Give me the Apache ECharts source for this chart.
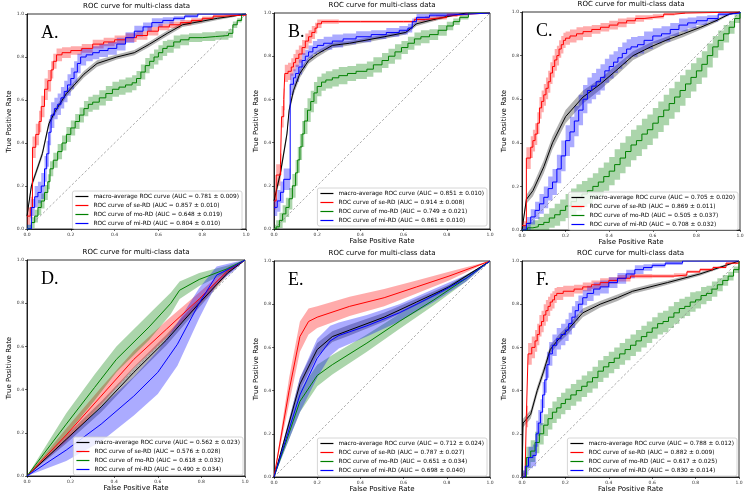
<!DOCTYPE html>
<html>
<head>
<meta charset="utf-8">
<script src="https://cdn.jsdelivr.net/npm/echarts@6/dist/echarts.min.js"></script>
<style>
    html, body { margin: 0; padding: 0; background: #fff; }
    #main { width: 750px; height: 497px; }
</style>
</head>
<body>
<div id="main"></div>
<script>
// 标题与类别
var panelTitle = 'ROC curve for multi-class data';
var panelLetters = ['A.', 'B.', 'C.', 'D.', 'E.', 'F.'];
var curveNames = ['macro-average ROC curve', 'ROC curve of se-RD', 'ROC curve of mo-RD', 'ROC curve of mi-RD'];

// AUC 文本 (macro, se, mo, mi)
var aucA = ['0.781 ± 0.009', '0.857 ± 0.010', '0.648 ± 0.019', '0.804 ± 0.010'];
var aucB = ['0.851 ± 0.010', '0.914 ± 0.008', '0.749 ± 0.021', '0.861 ± 0.010'];
var aucC = ['0.705 ± 0.020', '0.869 ± 0.011', '0.505 ± 0.037', '0.708 ± 0.032'];
var aucD = ['0.562 ± 0.023', '0.576 ± 0.028', '0.618 ± 0.032', '0.490 ± 0.034'];
var aucE = ['0.712 ± 0.024', '0.787 ± 0.027', '0.651 ± 0.034', '0.698 ± 0.040'];
var aucF = ['0.788 ± 0.012', '0.882 ± 0.009', '0.617 ± 0.025', '0.830 ± 0.014'];

// 曲线点 [FPR, TPR, std]
var macroA = [[0,0.06,0.01],[0.02,0.2,0.015],[0.04,0.26,0.015],[0.07,0.35,0.015],[0.1,0.49,0.015],[0.13,0.55,0.015],[0.18,0.63,0.015],[0.26,0.72,0.015],[0.32,0.77,0.015],[0.41,0.8,0.012],[0.49,0.82,0.012],[0.56,0.86,0.012],[0.64,0.91,0.012],[0.71,0.95,0.01],[0.79,0.965,0.01],[0.87,0.98,0.008],[0.94,0.99,0.005],[1,1,0]];
var seA = [[0,0.06,0.04],[0.015,0.1,0.05],[0.025,0.38,0.05],[0.04,0.44,0.05],[0.055,0.5,0.05],[0.065,0.57,0.05],[0.08,0.65,0.05],[0.095,0.69,0.05],[0.11,0.74,0.04],[0.12,0.78,0.035],[0.135,0.81,0.03],[0.16,0.82,0.025],[0.2,0.83,0.02],[0.25,0.84,0.02],[0.3,0.86,0.02],[0.35,0.87,0.02],[0.4,0.88,0.02],[0.45,0.89,0.02],[0.5,0.9,0.02],[0.55,0.92,0.02],[0.6,0.94,0.015],[0.65,0.95,0.015],[0.7,0.96,0.012],[0.75,0.97,0.01],[0.8,0.98,0.008],[0.85,0.99,0.006],[0.9,0.995,0.004],[1,1,0]];
var moA = [[0,0,0.02],[0.02,0.03,0.025],[0.035,0.06,0.03],[0.05,0.1,0.035],[0.065,0.13,0.035],[0.08,0.17,0.035],[0.095,0.22,0.035],[0.105,0.28,0.035],[0.12,0.32,0.035],[0.14,0.36,0.035],[0.16,0.4,0.035],[0.18,0.44,0.035],[0.2,0.47,0.035],[0.22,0.5,0.035],[0.24,0.53,0.035],[0.26,0.56,0.035],[0.28,0.58,0.035],[0.3,0.59,0.035],[0.33,0.61,0.035],[0.36,0.63,0.035],[0.39,0.65,0.035],[0.42,0.66,0.035],[0.45,0.67,0.035],[0.48,0.68,0.035],[0.5,0.7,0.035],[0.52,0.73,0.035],[0.54,0.76,0.035],[0.56,0.78,0.035],[0.58,0.8,0.035],[0.6,0.82,0.035],[0.62,0.84,0.035],[0.64,0.85,0.03],[0.67,0.87,0.03],[0.7,0.88,0.025],[0.74,0.89,0.02],[0.8,0.895,0.02],[0.86,0.9,0.02],[0.92,0.91,0.02],[0.94,0.95,0.015],[0.96,0.97,0.01],[0.98,1,0],[1,1,0]];
var miA = [[0,0,0.02],[0.02,0.1,0.04],[0.035,0.15,0.05],[0.05,0.17,0.05],[0.065,0.2,0.06],[0.08,0.28,0.06],[0.09,0.35,0.06],[0.1,0.45,0.06],[0.11,0.53,0.06],[0.125,0.56,0.05],[0.14,0.58,0.05],[0.155,0.61,0.05],[0.17,0.64,0.05],[0.185,0.67,0.05],[0.2,0.7,0.05],[0.215,0.73,0.05],[0.23,0.77,0.045],[0.245,0.8,0.04],[0.27,0.81,0.03],[0.3,0.82,0.03],[0.33,0.83,0.03],[0.37,0.84,0.03],[0.41,0.86,0.03],[0.45,0.89,0.025],[0.49,0.92,0.025],[0.53,0.94,0.02],[0.57,0.96,0.02],[0.62,0.97,0.015],[0.67,0.98,0.01],[0.72,0.99,0.008],[0.78,1,0],[1,1,0]];

var macroB = [[0,0.13,0.02],[0.03,0.26,0.02],[0.06,0.44,0.02],[0.07,0.55,0.02],[0.09,0.64,0.02],[0.12,0.72,0.02],[0.16,0.78,0.015],[0.2,0.81,0.015],[0.27,0.85,0.012],[0.35,0.86,0.01],[0.51,0.89,0.01],[0.61,0.91,0.01],[0.66,0.95,0.01],[0.74,0.97,0.008],[0.81,0.985,0.005],[0.89,1,0],[1,1,0]];
var seB = [[0,0.13,0.04],[0.01,0.25,0.05],[0.03,0.3,0.05],[0.035,0.52,0.05],[0.045,0.6,0.05],[0.05,0.72,0.04],[0.065,0.73,0.04],[0.08,0.75,0.04],[0.09,0.77,0.04],[0.1,0.79,0.04],[0.115,0.81,0.04],[0.13,0.84,0.035],[0.145,0.87,0.035],[0.16,0.89,0.03],[0.175,0.91,0.03],[0.19,0.93,0.025],[0.2,0.95,0.02],[0.22,0.96,0.01],[0.3,0.96,0.005],[0.4,0.96,0.005],[0.5,0.96,0.005],[0.6,0.96,0.005],[0.65,0.97,0.01],[0.7,0.975,0.01],[0.75,0.98,0.01],[0.8,0.99,0.008],[0.85,0.995,0.005],[0.9,1,0],[1,1,0]];
var moB = [[0,0,0.02],[0.01,0.01,0.03],[0.025,0.04,0.035],[0.04,0.07,0.04],[0.055,0.1,0.045],[0.07,0.14,0.05],[0.085,0.2,0.055],[0.1,0.26,0.06],[0.11,0.32,0.06],[0.12,0.38,0.06],[0.13,0.44,0.06],[0.14,0.5,0.06],[0.155,0.55,0.055],[0.17,0.59,0.05],[0.185,0.63,0.05],[0.2,0.66,0.045],[0.22,0.68,0.04],[0.24,0.69,0.04],[0.27,0.7,0.04],[0.3,0.71,0.04],[0.34,0.72,0.035],[0.38,0.73,0.035],[0.43,0.74,0.035],[0.46,0.76,0.035],[0.5,0.78,0.035],[0.53,0.8,0.035],[0.56,0.82,0.035],[0.59,0.84,0.03],[0.62,0.86,0.03],[0.65,0.88,0.03],[0.68,0.89,0.03],[0.72,0.9,0.025],[0.76,0.92,0.025],[0.8,0.94,0.02],[0.83,0.96,0.015],[0.86,0.98,0.01],[0.9,1,0],[1,1,0]];
var miB = [[0,0.1,0.04],[0.015,0.13,0.05],[0.03,0.17,0.05],[0.045,0.23,0.05],[0.075,0.67,0.05],[0.09,0.7,0.04],[0.1,0.72,0.04],[0.115,0.75,0.035],[0.13,0.78,0.035],[0.145,0.8,0.03],[0.16,0.82,0.03],[0.18,0.84,0.03],[0.2,0.85,0.03],[0.23,0.86,0.03],[0.27,0.87,0.03],[0.32,0.88,0.025],[0.38,0.89,0.025],[0.45,0.9,0.02],[0.52,0.91,0.02],[0.58,0.92,0.02],[0.62,0.93,0.02],[0.64,0.96,0.015],[0.66,0.98,0.015],[0.72,0.99,0.01],[0.8,0.995,0.005],[0.9,1,0],[1,1,0]];

var macroC = [[0,0,0.01],[0.02,0.14,0.02],[0.05,0.18,0.025],[0.1,0.29,0.03],[0.14,0.4,0.03],[0.2,0.52,0.03],[0.28,0.61,0.03],[0.36,0.67,0.025],[0.43,0.73,0.025],[0.51,0.8,0.02],[0.59,0.84,0.02],[0.66,0.87,0.015],[0.74,0.9,0.015],[0.82,0.93,0.01],[0.89,0.96,0.008],[0.95,0.99,0.005],[1,1,0]];
var seC = [[0,0.02,0.02],[0.02,0.33,0.05],[0.04,0.38,0.05],[0.05,0.41,0.05],[0.06,0.44,0.05],[0.07,0.49,0.05],[0.08,0.56,0.05],[0.09,0.59,0.05],[0.1,0.62,0.05],[0.11,0.65,0.05],[0.12,0.68,0.05],[0.13,0.72,0.05],[0.14,0.75,0.05],[0.15,0.78,0.05],[0.16,0.8,0.045],[0.17,0.83,0.04],[0.18,0.85,0.04],[0.19,0.87,0.035],[0.2,0.88,0.03],[0.22,0.89,0.03],[0.25,0.9,0.03],[0.28,0.91,0.025],[0.32,0.92,0.02],[0.36,0.93,0.02],[0.4,0.94,0.02],[0.44,0.95,0.02],[0.48,0.96,0.015],[0.52,0.97,0.015],[0.56,0.975,0.01],[0.6,0.98,0.01],[0.65,0.99,0.006],[0.7,0.995,0.004],[0.75,1,0],[1,1,0]];
var moC = [[0,0,0.02],[0.025,0.01,0.025],[0.05,0.015,0.03],[0.075,0.025,0.035],[0.1,0.035,0.04],[0.125,0.055,0.045],[0.15,0.07,0.05],[0.175,0.09,0.05],[0.2,0.11,0.055],[0.225,0.13,0.06],[0.25,0.15,0.06],[0.275,0.165,0.06],[0.3,0.18,0.06],[0.325,0.2,0.06],[0.35,0.22,0.065],[0.375,0.245,0.065],[0.4,0.27,0.065],[0.425,0.3,0.07],[0.45,0.33,0.07],[0.475,0.36,0.07],[0.5,0.39,0.07],[0.525,0.41,0.07],[0.55,0.44,0.07],[0.575,0.46,0.07],[0.6,0.49,0.07],[0.625,0.52,0.07],[0.65,0.55,0.07],[0.675,0.58,0.07],[0.7,0.61,0.07],[0.725,0.64,0.07],[0.75,0.67,0.065],[0.775,0.7,0.065],[0.8,0.73,0.06],[0.825,0.76,0.06],[0.85,0.8,0.055],[0.875,0.84,0.05],[0.9,0.87,0.045],[0.925,0.9,0.04],[0.95,0.93,0.03],[0.975,0.97,0.02],[1,1,0]];
var miC = [[0,0,0.02],[0.02,0.03,0.03],[0.04,0.06,0.035],[0.06,0.09,0.04],[0.08,0.12,0.045],[0.1,0.15,0.05],[0.12,0.19,0.055],[0.14,0.22,0.06],[0.16,0.28,0.065],[0.18,0.34,0.07],[0.2,0.41,0.07],[0.22,0.45,0.07],[0.24,0.5,0.07],[0.26,0.55,0.07],[0.28,0.6,0.065],[0.3,0.64,0.06],[0.32,0.66,0.06],[0.34,0.68,0.06],[0.36,0.7,0.06],[0.38,0.73,0.055],[0.4,0.75,0.055],[0.42,0.77,0.05],[0.44,0.79,0.05],[0.46,0.81,0.05],[0.48,0.83,0.045],[0.5,0.84,0.045],[0.53,0.85,0.04],[0.56,0.87,0.04],[0.6,0.89,0.035],[0.64,0.9,0.035],[0.68,0.92,0.03],[0.72,0.94,0.03],[0.76,0.95,0.025],[0.8,0.96,0.02],[0.85,0.97,0.015],[0.9,0.99,0.01],[0.95,0.995,0.005],[1,1,0]];

var macroD = [[0,0,0],[0.18,0.17,0.02],[0.34,0.32,0.025],[0.49,0.48,0.025],[0.64,0.63,0.025],[0.79,0.8,0.02],[0.92,0.94,0.01],[1,1,0]];
var seD = [[0,0,0],[0.18,0.19,0.03],[0.34,0.37,0.04],[0.49,0.54,0.04],[0.64,0.68,0.04],[0.79,0.82,0.03],[0.92,0.95,0.015],[1,1,0]];
var moD = [[0,0,0],[0.18,0.24,0.05],[0.31,0.41,0.06],[0.41,0.54,0.06],[0.56,0.69,0.06],[0.66,0.8,0.05],[0.7,0.86,0.04],[0.79,0.91,0.03],[0.92,0.96,0.015],[1,1,0]];
var miD = [[0,0,0],[0.18,0.12,0.05],[0.34,0.24,0.08],[0.49,0.37,0.09],[0.6,0.48,0.1],[0.69,0.61,0.1],[0.79,0.8,0.07],[0.87,0.93,0.04],[0.95,0.97,0.02],[1,1,0]];

var macroE = [[0,0,0],[0.12,0.43,0.03],[0.2,0.59,0.03],[0.27,0.65,0.025],[0.35,0.68,0.025],[0.51,0.74,0.02],[0.66,0.81,0.015],[0.81,0.88,0.01],[1,1,0]];
var seE = [[0,0,0],[0.07,0.4,0.06],[0.12,0.65,0.07],[0.16,0.72,0.06],[0.2,0.74,0.05],[0.35,0.79,0.045],[0.51,0.83,0.04],[0.66,0.88,0.03],[0.81,0.93,0.02],[1,1,0]];
var moE = [[0,0,0],[0.12,0.35,0.05],[0.2,0.47,0.05],[0.27,0.52,0.045],[0.43,0.62,0.04],[0.58,0.72,0.035],[0.74,0.82,0.025],[0.89,0.92,0.015],[1,1,0]];
var miE = [[0,0,0],[0.12,0.38,0.08],[0.2,0.55,0.09],[0.26,0.63,0.07],[0.3,0.655,0.06],[0.43,0.7,0.05],[0.58,0.76,0.04],[0.74,0.84,0.03],[0.89,0.92,0.015],[1,1,0]];

var macroF = [[0,0,0.01],[0.005,0.25,0.02],[0.04,0.29,0.02],[0.07,0.4,0.02],[0.1,0.49,0.02],[0.13,0.59,0.02],[0.17,0.64,0.02],[0.21,0.68,0.02],[0.28,0.76,0.02],[0.36,0.8,0.015],[0.44,0.83,0.015],[0.51,0.86,0.012],[0.59,0.88,0.012],[0.67,0.9,0.01],[0.82,0.94,0.008],[0.97,0.99,0.004],[1,1,0]];
var seF = [[0,0,0.02],[0.015,0.05,0.03],[0.02,0.28,0.05],[0.028,0.57,0.05],[0.045,0.6,0.05],[0.06,0.63,0.05],[0.07,0.66,0.05],[0.08,0.7,0.05],[0.09,0.72,0.05],[0.1,0.75,0.05],[0.11,0.77,0.05],[0.12,0.79,0.045],[0.13,0.81,0.04],[0.14,0.82,0.04],[0.15,0.84,0.035],[0.16,0.85,0.03],[0.19,0.86,0.025],[0.24,0.87,0.02],[0.28,0.88,0.02],[0.32,0.89,0.02],[0.36,0.9,0.02],[0.4,0.91,0.015],[0.44,0.92,0.015],[0.5,0.93,0.01],[0.6,0.93,0.008],[0.7,0.935,0.008],[0.76,0.95,0.006],[0.82,0.96,0.006],[0.88,0.97,0.004],[0.94,0.99,0.003],[1,1,0]];
var moF = [[0,0,0.03],[0.02,0.09,0.05],[0.04,0.12,0.05],[0.06,0.16,0.05],[0.08,0.2,0.05],[0.1,0.24,0.05],[0.12,0.27,0.05],[0.14,0.3,0.05],[0.16,0.32,0.05],[0.18,0.34,0.05],[0.2,0.36,0.05],[0.225,0.38,0.05],[0.25,0.4,0.05],[0.275,0.42,0.05],[0.3,0.44,0.05],[0.325,0.46,0.05],[0.35,0.49,0.05],[0.375,0.51,0.05],[0.4,0.53,0.05],[0.425,0.55,0.05],[0.45,0.57,0.05],[0.475,0.59,0.05],[0.5,0.61,0.05],[0.525,0.63,0.05],[0.55,0.65,0.05],[0.575,0.67,0.05],[0.6,0.69,0.05],[0.625,0.71,0.05],[0.65,0.72,0.05],[0.675,0.74,0.05],[0.7,0.76,0.05],[0.725,0.78,0.045],[0.75,0.79,0.045],[0.775,0.81,0.045],[0.8,0.82,0.04],[0.825,0.84,0.04],[0.85,0.85,0.035],[0.875,0.87,0.035],[0.9,0.89,0.03],[0.925,0.91,0.025],[0.95,0.93,0.02],[0.975,0.96,0.015],[1,1,0]];
var miF = [[0,0,0.03],[0.015,0.05,0.04],[0.03,0.09,0.05],[0.05,0.1,0.05],[0.065,0.2,0.06],[0.075,0.25,0.06],[0.085,0.3,0.06],[0.095,0.38,0.06],[0.105,0.45,0.06],[0.115,0.52,0.06],[0.125,0.57,0.055],[0.14,0.61,0.05],[0.16,0.64,0.05],[0.18,0.66,0.05],[0.2,0.68,0.05],[0.215,0.71,0.05],[0.23,0.74,0.05],[0.245,0.77,0.045],[0.26,0.8,0.04],[0.28,0.83,0.035],[0.3,0.85,0.035],[0.33,0.87,0.03],[0.36,0.88,0.03],[0.4,0.9,0.025],[0.44,0.92,0.025],[0.48,0.94,0.02],[0.52,0.96,0.02],[0.56,0.97,0.015],[0.6,0.98,0.01],[0.66,0.99,0.008],[0.74,1,0],[1,1,0]];

// 颜色
var lineColor = ['#000000', '#ff0000', '#008000', '#0000ff'];
var bandColor = ['rgba(0,0,0,0.3)', 'rgba(255,0,0,0.33)', 'rgba(0,128,0,0.33)', 'rgba(0,0,255,0.33)'];
var FONT = 'DejaVu Sans';

// 六个子图位置 (legend: 距容器右边, 顶部); step: 阶梯曲线
var stairs = [false, true, true, true];
var smooth = [false, false, false, false];
var panels = [
    {box: [27, 14, 219, 215], legend: [508, 191], xName: false, step: stairs, auc: aucA, curves: [macroA, seA, moA, miA]},
    {box: [274, 13, 216, 216], legend: [263, 188], xName: true, step: stairs, auc: aucB, curves: [macroB, seB, moB, miB]},
    {box: [522, 12, 218, 218], legend: [12, 192], xName: true, step: stairs, auc: aucC, curves: [macroC, seC, moC, miC]},
    {box: [27, 260, 218, 216], legend: [507, 437], xName: true, step: smooth, auc: aucD, curves: [macroD, seD, moD, miD]},
    {box: [274, 261, 216, 216], legend: [263, 438], xName: true, step: smooth, auc: aucE, curves: [macroE, seE, moE, miE]},
    {box: [522, 261, 217, 216], legend: [13, 438], xName: true, step: stairs, auc: aucF, curves: [macroF, seF, moF, miF]}
];

// 阴影边界 (上/下), step 时按 'end' 方式走阶梯
function edge(pts, sign, step) {
    var out = [];
    for (var j = 0; j < pts.length; j++) {
        var v = Math.max(0, Math.min(1, pts[j][1] + sign * pts[j][2]));
        out.push([pts[j][0], v]);
        if (step && j < pts.length - 1) out.push([pts[j + 1][0], v]);
    }
    return out;
}

//标准差阴影 多边形
function bandSeries(pts, i, fill, step) {
    return {
        type: 'custom',
        xAxisIndex: i,
        yAxisIndex: i,
        silent: true,
        data: pts,
        encode: {x: 0, y: 1},
        renderItem: function (params, api) {
            if (params.dataIndex !== 0) return null;
            var up = edge(pts, 1, step).map(function (d) { return api.coord(d); });
            var lo = edge(pts, -1, step).map(function (d) { return api.coord(d); });
            return {type: 'polygon', shape: {points: up.concat(lo.reverse())}, style: {fill: fill}};
        }
    };
}

var grids = [], xAxes = [], yAxes = [], series = [], legends = [], graphics = [];

panels.forEach(function (p, i) {
    var b = p.box;
    grids.push({left: b[0], top: b[1], width: b[2], height: b[3], show: true, borderColor: '#000', borderWidth: 0.8});
    var axisBase = {
        gridIndex: i, type: 'value', min: 0, max: 1, interval: 0.2,
        nameLocation: 'middle',
        nameTextStyle: {fontSize: 7, color: '#000', fontFamily: FONT},
        axisLine: {onZero: false, lineStyle: {color: '#000', width: 0.8}},
        axisTick: {length: 2, lineStyle: {color: '#000', width: 0.6}},
        axisLabel: {fontSize: 4.5, color: '#333', margin: 3, fontFamily: FONT, formatter: function (v) { return v.toFixed(1); }},
        splitLine: {show: false}
    };
    xAxes.push(Object.assign({}, axisBase, {name: p.xName ? 'False Positive Rate' : '', nameGap: 8}));
    yAxes.push(Object.assign({}, axisBase, {name: 'True Positive Rate', nameGap: 13}));

    // 对角虚线
    series.push({
        type: 'line', xAxisIndex: i, yAxisIndex: i, silent: true, symbol: 'none',
        data: [[0, 0], [1, 1]],
        lineStyle: {color: '#888', width: 0.7, type: [2.5, 2]}
    });

    var names = [];
    p.curves.forEach(function (pts, k) {
        var name = curveNames[k] + ' (AUC = ' + p.auc[k] + ')';
        names.push(name);
        series.push(bandSeries(pts, i, bandColor[k], p.step[k]));
        series.push({
            type: 'line', name: name, xAxisIndex: i, yAxisIndex: i,
            symbol: 'none', showSymbol: false,
            step: p.step[k] ? 'end' : false,
            data: pts.map(function (d) { return [d[0], d[1]]; }),
            lineStyle: {color: lineColor[k], width: 1},
            itemStyle: {color: lineColor[k]}
        });
    });

    legends.push({
        data: names, orient: 'vertical', right: p.legend[0], top: p.legend[1],
        icon: 'rect', itemWidth: 13, itemHeight: 1.2, itemGap: 3,
        textStyle: {fontSize: 5.8, color: '#000', fontFamily: FONT},
        borderColor: '#ccc', borderWidth: 0.8, borderRadius: 2, padding: [2.5, 3, 2.5, 3],
        backgroundColor: 'rgba(255,255,255,0.8)', selectedMode: false
    });

    // 标题 和 字母
    graphics.push({
        type: 'text', x: b[0] + b[2] / 2, y: b[1] - 7.5, silent: true,
        style: {text: panelTitle, fontSize: 7, fontFamily: FONT, fill: '#000', align: 'center', verticalAlign: 'middle'}
    });
    graphics.push({
        type: 'text', x: b[0] + 14, y: b[1] + 19, silent: true,
        style: {text: panelLetters[i], fontSize: 18, fontFamily: 'Liberation Serif', fill: '#000', align: 'left', verticalAlign: 'middle'}
    });
});

var Chart = echarts.init(document.getElementById('main'));
Chart.setOption({
    animation: false,
    backgroundColor: '#fff',
    grid: grids,
    xAxis: xAxes,
    yAxis: yAxes,
    legend: legends,
    graphic: graphics,
    series: series
});
</script>
</body>
</html>
